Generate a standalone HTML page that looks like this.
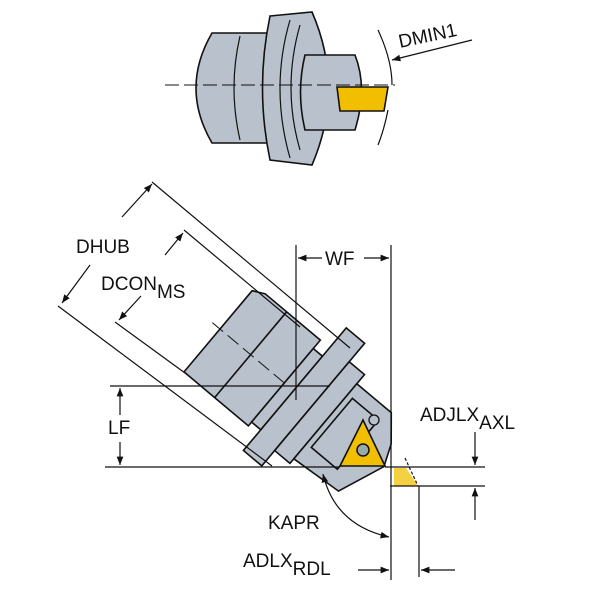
<!DOCTYPE html>
<html><head><style>body{margin:0;background:#fff}svg{display:block}text{font-family:"Liberation Sans",sans-serif;fill:#111}</style></head><body>
<svg width="600" height="600" viewBox="0 0 600 600" xmlns="http://www.w3.org/2000/svg">
<defs><marker id="a" viewBox="0 0 10 10" refX="10" refY="5" markerWidth="7" markerHeight="7" orient="auto-start-reverse"><path d="M0,1 L10,5 L0,9z" fill="#111"/></marker></defs>
<g stroke="#111" stroke-width="1.6" fill="#b9c1cc">
<!-- top view -->
<path d="M212,33 L272,33 L272,143 L212,143 Q180,88 212,33z"/>
<path d="M240,36 Q228,88 240,140" fill="none" stroke-width="1.2"/>
<path d="M270,16 L312,12 Q345,88 312,165 L270,160 Q255,88 270,16z"/>
<path d="M290,20 Q270,88 290,158 M300,25 Q282,88 300,150" fill="none" stroke-width="1.2"/>
<path d="M305,55 L355,55 Q368,88 355,130 L305,130 Q296,92 305,55z"/>
<path d="M337,87 L388,87 L384,111 L340,111z" fill="#f2bf00"/>
<line x1="165" y1="85" x2="395" y2="85" stroke-width="1" stroke-dasharray="14,5"/>
<path d="M378,30 Q392,60 392,85 M388,110 Q384,130 378,145" fill="none" stroke-width="1.2"/>
<line x1="472" y1="40" x2="392" y2="60" stroke-width="1.2" marker-end="url(#a)"/>
<!-- main body -->
<g transform="translate(220,329) rotate(40)">
<path d="M0,-50 L12,-56 L84,-56 L84,56 L0,56z"/>
<line x1="40" y1="-56" x2="40" y2="56"/>
<line x1="-10" y1="0" x2="130" y2="0" stroke-width="1" stroke-dasharray="14,6"/>
<rect x="84" y="-45" width="12" height="96"/>
<rect x="96" y="-82" width="24" height="160"/>
<rect x="120" y="-58" width="20" height="116"/>
<path d="M140,-46 L185,-46 L205,-22 L214,0 L195,48 L140,52z"/>
<rect x="146" y="-32" width="34" height="64" fill="none"/>
</g>
</g>
<path d="M340,466 L385,466 L363,420z" fill="#f2bf00" stroke="#111" stroke-width="1.6"/>
<circle cx="363" cy="450" r="6" fill="#9aa" stroke="#111" stroke-width="1.5"/>
<circle cx="374" cy="420" r="5" fill="#b9c1cc" stroke="#111" stroke-width="1.3"/>
<path d="M394,468 L406,468 L418,486 L394,486z" fill="#f5d040"/>
<g stroke="#111" stroke-width="1.2" fill="none">
<line x1="152" y1="182" x2="350" y2="348"/>
<line x1="58" y1="306" x2="272" y2="466"/>
<line x1="184" y1="230" x2="300" y2="327"/>
<line x1="115" y1="322" x2="185" y2="373"/>
<line x1="122" y1="217" x2="152" y2="184" marker-end="url(#a)"/>
<line x1="90" y1="265" x2="62" y2="303" marker-end="url(#a)"/>
<line x1="165" y1="255" x2="183" y2="233" marker-end="url(#a)"/>
<line x1="141" y1="296" x2="119" y2="320" marker-end="url(#a)"/>
<line x1="296" y1="245" x2="296" y2="400"/>
<line x1="391" y1="245" x2="391" y2="580"/>
<line x1="322" y1="258" x2="298" y2="258" marker-end="url(#a)"/>
<line x1="364" y1="258" x2="389" y2="258" marker-end="url(#a)"/>
<line x1="110" y1="386" x2="330" y2="386"/>
<line x1="105" y1="467" x2="340" y2="467"/>
<line x1="385" y1="467" x2="485" y2="467"/>
<line x1="390" y1="486" x2="485" y2="486"/>
<line x1="120" y1="415" x2="120" y2="388" marker-end="url(#a)"/>
<line x1="120" y1="442" x2="120" y2="465" marker-end="url(#a)"/>
<line x1="475" y1="432" x2="475" y2="465" marker-end="url(#a)"/>
<line x1="475" y1="520" x2="475" y2="488" marker-end="url(#a)"/>
<line x1="419" y1="486" x2="419" y2="577"/>
<line x1="405" y1="458" x2="418" y2="486" stroke-dasharray="3,2"/>
<path d="M323,474 Q335,525 389,537" marker-start="url(#a)" marker-end="url(#a)"/>
<line x1="358" y1="570" x2="389" y2="570" marker-end="url(#a)"/>
<line x1="455" y1="570" x2="421" y2="570" marker-end="url(#a)"/>
</g>
<text x="400" y="48" font-size="19" transform="rotate(-12 400 48)">DMIN1</text>
<text x="76" y="253" font-size="19">DHUB</text>
<text x="101" y="290" font-size="19">DCON<tspan dy="8">MS</tspan></text>
<text x="325" y="265" font-size="19">WF</text>
<text x="108" y="434" font-size="19">LF</text>
<text x="420" y="421" font-size="19">ADJLX<tspan dy="8">AXL</tspan></text>
<text x="268" y="529" font-size="19">KAPR</text>
<text x="243" y="567" font-size="19">ADLX<tspan dy="8">RDL</tspan></text>
</svg>
</body></html>
